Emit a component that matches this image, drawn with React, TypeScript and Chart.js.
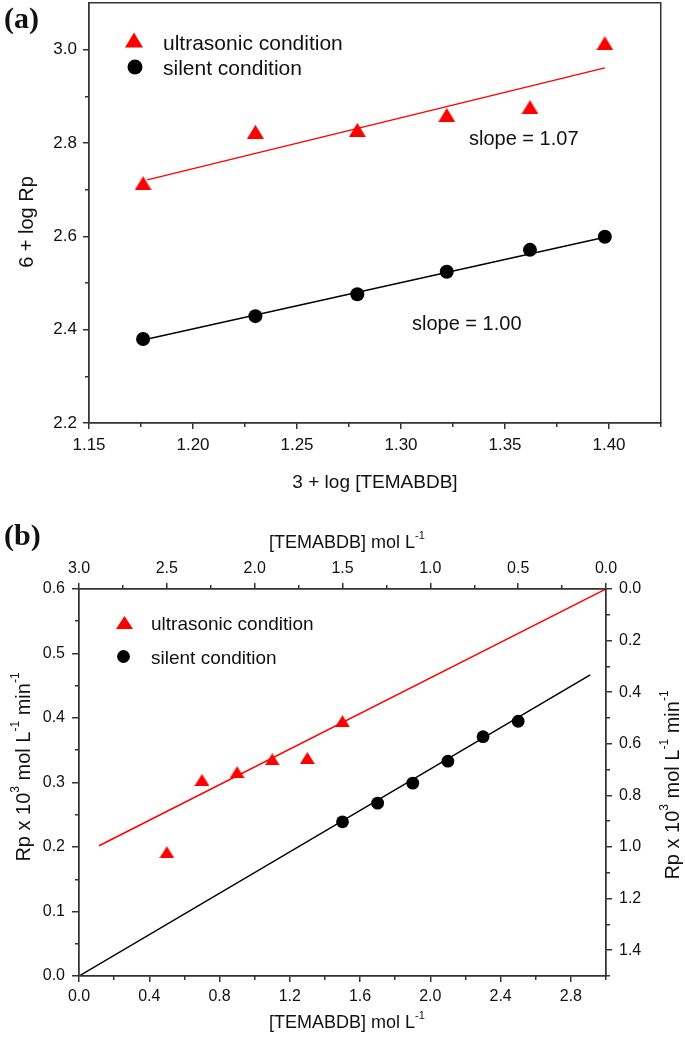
import React, { useEffect, useRef } from "react";
import { Chart, registerables } from "chart.js";

Chart.register(...registerables);

const FONT = "'Liberation Sans', Arial, Helvetica, sans-serif";
const SERIF = "'Liberation Serif', 'Times New Roman', serif";
const TEXT = "#111111";
const AXIS = "#333333";
const RED = "#ff0000";
const BLACK = "#000000";

// ---------- Panel (a) ----------
const logConcA = [1.176, 1.230, 1.279, 1.322, 1.362, 1.398];
const logRpUltrasonicA = [2.714, 2.824, 2.828, 2.860, 2.877, 3.014];
const logRpSilentA = [2.380, 2.429, 2.476, 2.524, 2.571, 2.599];
const fitUltrasonicAX = [1.178, 1.398];
const fitUltrasonicAY = [2.721, 2.961];
const fitSilentAX = [1.176, 1.398];
const fitSilentAY = [2.378, 2.598];
const xTicksA = [1.15, 1.2, 1.25, 1.3, 1.35, 1.4];
const xMinorA = [1.175, 1.225, 1.275, 1.325, 1.375, 1.425];
const yTicksA = [2.2, 2.4, 2.6, 2.8, 3.0];
const yMinorA = [2.3, 2.5, 2.7, 2.9];

// ---------- Panel (b) ----------
const concUltrasonicB = [0.5, 0.7, 0.9, 1.1, 1.3, 1.5];
const rpUltrasonicB = [0.192, 0.304, 0.316, 0.336, 0.338, 0.395];
const concSilentB = [1.5, 1.7, 1.9, 2.1, 2.3, 2.5];
const rpSilentB = [0.239, 0.268, 0.299, 0.333, 0.371, 0.395];
const fitUltrasonicBX = [0.114, 3.0];
const fitUltrasonicBY = [0.202, 0.6];
const fitSilentBX = [0.0, 2.91];
const fitSilentBY = [0.0, 0.467];
const xTicksB = [0, 0.4, 0.8, 1.2, 1.6, 2.0, 2.4, 2.8];
const xMinorB = [0.2, 0.6, 1.0, 1.4, 1.8, 2.2, 2.6, 3.0];
const yTicksB = [0, 0.1, 0.2, 0.3, 0.4, 0.5, 0.6];
const yMinorB = [0.05, 0.15, 0.25, 0.35, 0.45, 0.55];
const topTicksB = [0, 0.5, 1.0, 1.5, 2.0, 2.5, 3.0];
const topMinorB = [0.25, 0.75, 1.25, 1.75, 2.25, 2.75];
const rightTicksB = [0, 0.2, 0.4, 0.6, 0.8, 1.0, 1.2, 1.4];
const rightMinorB = [0.1, 0.3, 0.5, 0.7, 0.9, 1.1, 1.3, 1.5];

const A_H = 505;
const B_TOP = 505;
const B_H = 1038 - B_TOP;

type Seg = { t: string; sup?: boolean };

function drawText(
  ctx: CanvasRenderingContext2D,
  segs: Seg[],
  x: number,
  y: number,
  size: number,
  o: { rot?: number; align?: "left" | "center"; family?: string; weight?: string; baseline?: boolean; color?: string } = {}
) {
  const family = o.family || FONT;
  const weight = o.weight || "normal";
  const supSize = Math.round(size * 0.62);
  const f = (sz: number) => `${weight} ${sz}px ${family}`;
  ctx.save();
  ctx.translate(x, y);
  if (o.rot) ctx.rotate(o.rot);
  ctx.fillStyle = o.color || TEXT;
  ctx.textAlign = "left";
  ctx.textBaseline = "alphabetic";
  const widths = segs.map((s) => {
    ctx.font = f(s.sup ? supSize : size);
    return ctx.measureText(s.t).width;
  });
  const total = widths.reduce((a, b) => a + b, 0);
  let cx = o.align === "left" ? 0 : -total / 2;
  const base = o.baseline ? 0 : size * 0.36;
  segs.forEach((s, i) => {
    ctx.font = f(s.sup ? supSize : size);
    ctx.fillText(s.t, cx, s.sup ? base - size * 0.55 : base);
    cx += widths[i];
  });
  ctx.restore();
}

function makeTriangle(w: number, h: number, color: string) {
  const c = document.createElement("canvas");
  c.width = w;
  c.height = h;
  const g = c.getContext("2d")!;
  g.fillStyle = color;
  g.beginPath();
  g.moveTo(w / 2, 0);
  g.lineTo(w, h);
  g.lineTo(0, h);
  g.closePath();
  g.fill();
  return c;
}

function align(p: number, w: number) {
  return Math.round(p - w / 2) + w / 2;
}

function axisCfg(
  position: "left" | "right" | "top" | "bottom",
  min: number,
  max: number,
  ticks: number[],
  dec: number,
  fontSize: number,
  size: number,
  tickLen: number,
  pad: number,
  reverse = false
) {
  const horizontal = position === "top" || position === "bottom";
  return {
    type: "linear",
    position,
    min,
    max,
    reverse,
    afterBuildTicks: (s: any) => {
      s.ticks = ticks.map((v) => ({ value: v }));
    },
    afterFit: (s: any) => {
      if (horizontal) s.height = size;
      else s.width = size;
      s.paddingTop = 0;
      s.paddingBottom = 0;
      s.paddingLeft = 0;
      s.paddingRight = 0;
    },
    ticks: {
      callback: (v: any) => Number(v).toFixed(dec),
      font: { size: fontSize, family: FONT },
      color: TEXT,
      padding: pad,
      autoSkip: false,
      maxRotation: 0,
      minRotation: 0,
    },
    grid: {
      display: true,
      drawOnChartArea: false,
      drawTicks: true,
      tickLength: tickLen,
      color: AXIS,
      lineWidth: 1.5,
    },
    border: { display: true, color: AXIS, width: 1.5 },
    title: { display: false },
  };
}

type Minor = { id: string; values: number[]; len: number };
type TextItem = { segs: Seg[]; x: number; y: number; size: number; rot?: number; align?: "left" | "center"; family?: string; weight?: string; baseline?: boolean };
type Sym = { kind: "tri" | "circle"; x: number; y: number; w?: number; h?: number; r?: number; color: string };

function overlayPlugin(minor: Minor[], texts: TextItem[], syms: Sym[]) {
  return {
    id: "overlay",
    afterDraw(chart: any) {
      const ctx: CanvasRenderingContext2D = chart.ctx;
      const ca = chart.chartArea;
      ctx.save();
      ctx.strokeStyle = AXIS;
      ctx.lineWidth = 1.5;
      const l = align(ca.left, 1.5), r = align(ca.right, 1.5), t = align(ca.top, 1.5), b = align(ca.bottom, 1.5);
      ctx.strokeRect(l, t, r - l, b - t);
      for (const m of minor) {
        const s = chart.scales[m.id];
        ctx.beginPath();
        for (const v of m.values) {
          const p = align(s.getPixelForValue(v), 1.5);
          if (s.position === "bottom") {
            ctx.moveTo(p, s.top);
            ctx.lineTo(p, s.top + m.len);
          } else if (s.position === "top") {
            ctx.moveTo(p, s.bottom);
            ctx.lineTo(p, s.bottom - m.len);
          } else if (s.position === "left") {
            ctx.moveTo(s.right, p);
            ctx.lineTo(s.right - m.len, p);
          } else {
            ctx.moveTo(s.left, p);
            ctx.lineTo(s.left + m.len, p);
          }
        }
        ctx.stroke();
      }
      for (const sy of syms) {
        ctx.fillStyle = sy.color;
        ctx.beginPath();
        if (sy.kind === "tri") {
          const w = sy.w!, h = sy.h!;
          ctx.moveTo(sy.x, sy.y - h / 2);
          ctx.lineTo(sy.x + w / 2, sy.y + h / 2);
          ctx.lineTo(sy.x - w / 2, sy.y + h / 2);
          ctx.closePath();
        } else {
          ctx.arc(sy.x, sy.y, sy.r!, 0, Math.PI * 2);
        }
        ctx.fill();
      }
      for (const tx of texts) {
        drawText(ctx, tx.segs, tx.x, tx.y, tx.size, tx);
      }
      ctx.restore();
    },
  };
}

function pts(xs: number[], ys: number[]) {
  return xs.map((x, i) => ({ x, y: ys[i] }));
}

function configA(): any {
  const tri = makeTriangle(17, 14, RED);
  const up = -Math.PI / 2;
  return {
    type: "scatter",
    data: {
      datasets: [
        { label: "ultrasonic condition", data: pts(logConcA, logRpUltrasonicA), pointStyle: tri, pointRadius: 8, backgroundColor: RED, borderColor: RED },
        { label: "silent condition", data: pts(logConcA, logRpSilentA), pointStyle: "circle", pointRadius: 7, backgroundColor: BLACK, borderColor: BLACK, borderWidth: 0 },
        { label: "fit ultrasonic", data: pts(fitUltrasonicAX, fitUltrasonicAY), showLine: true, pointRadius: 0, borderColor: RED, borderWidth: 1.5, fill: false },
        { label: "fit silent", data: pts(fitSilentAX, fitSilentAY), showLine: true, pointRadius: 0, borderColor: BLACK, borderWidth: 1.5, fill: false },
      ],
    },
    options: {
      responsive: false,
      animation: false,
      devicePixelRatio: 1,
      events: [],
      layout: { autoPadding: false, padding: { top: 3, right: 24, left: 0, bottom: 0 } },
      plugins: { legend: { display: false }, tooltip: { enabled: false }, title: { display: false } },
      scales: {
        x: axisCfg("bottom", 1.15, 1.425, xTicksA, 2, 17, A_H - 423, 6, 6),
        y: axisCfg("left", 2.2, 3.1, yTicksA, 1, 17, 89, 6, 6),
      },
    },
    plugins: [
      overlayPlugin(
        [
          { id: "x", values: xMinorA, len: 4 },
          { id: "y", values: yMinorA, len: 4 },
        ],
        [
          { segs: [{ t: "(a)" }], x: 4, y: 28, size: 30, align: "left", family: SERIF, weight: "bold", baseline: true },
          { segs: [{ t: "ultrasonic condition" }], x: 163, y: 42, size: 21, align: "left" },
          { segs: [{ t: "silent condition" }], x: 163, y: 67, size: 21, align: "left" },
          { segs: [{ t: "slope = 1.07" }], x: 469, y: 138, size: 20, align: "left" },
          { segs: [{ t: "slope = 1.00" }], x: 412, y: 323, size: 20, align: "left" },
          { segs: [{ t: "3 + log [TEMABDB]" }], x: 375, y: 481, size: 19 },
          { segs: [{ t: "6 + log Rp" }], x: 25.5, y: 222, size: 20, rot: up },
        ],
        [
          { kind: "tri", x: 134, y: 40, w: 18, h: 15, color: RED },
          { kind: "circle", x: 135, y: 67, r: 7.5, color: BLACK },
        ]
      ),
    ],
  };
}

function configB(): any {
  const tri = makeTriangle(15, 12, RED);
  const up = -Math.PI / 2;
  const o = B_TOP;
  const rpTitle: Seg[] = [
    { t: "Rp x 10" },
    { t: "3", sup: true },
    { t: " mol L" },
    { t: "-1", sup: true },
    { t: " min" },
    { t: "-1", sup: true },
  ];
  const concTitle: Seg[] = [{ t: "[TEMABDB] mol L" }, { t: "-1", sup: true }];
  return {
    type: "scatter",
    data: {
      datasets: [
        { label: "ultrasonic condition", data: pts(concUltrasonicB, rpUltrasonicB), xAxisID: "x", yAxisID: "y", pointStyle: tri, pointRadius: 8, backgroundColor: RED, borderColor: RED },
        { label: "silent condition", data: pts(concSilentB, rpSilentB), xAxisID: "x", yAxisID: "y", pointStyle: "circle", pointRadius: 6.4, backgroundColor: BLACK, borderColor: BLACK, borderWidth: 0 },
        { label: "fit ultrasonic", data: pts(fitUltrasonicBX, fitUltrasonicBY), xAxisID: "x", yAxisID: "y", showLine: true, pointRadius: 0, borderColor: RED, borderWidth: 1.5, fill: false },
        { label: "fit silent", data: pts(fitSilentBX, fitSilentBY), xAxisID: "x", yAxisID: "y", showLine: true, pointRadius: 0, borderColor: BLACK, borderWidth: 1.5, fill: false },
      ],
    },
    options: {
      responsive: false,
      animation: false,
      devicePixelRatio: 1,
      events: [],
      layout: { autoPadding: false, padding: 0 },
      plugins: { legend: { display: false }, tooltip: { enabled: false }, title: { display: false } },
      scales: {
        x: axisCfg("bottom", 0, 3.0, xTicksB, 1, 16, B_H - (976 - o), 6, 5),
        y: axisCfg("left", 0, 0.6, yTicksB, 1, 16, 79, 7, 7),
        x2: axisCfg("top", 0, 3.0, topTicksB, 1, 16, 589 - o, 6, 5, true),
        y2: axisCfg("right", 0, 1.5, rightTicksB, 1, 16, 685 - 606, 6, 7, true),
      },
    },
    plugins: [
      overlayPlugin(
        [
          { id: "x", values: xMinorB, len: 4 },
          { id: "y", values: yMinorB, len: 4 },
          { id: "x2", values: topMinorB, len: 4 },
          { id: "y2", values: rightMinorB, len: 4 },
        ],
        [
          { segs: [{ t: "(b)" }], x: 4, y: 545 - o, size: 30, align: "left", family: SERIF, weight: "bold", baseline: true },
          { segs: [{ t: "ultrasonic condition" }], x: 151, y: 623 - o, size: 19, align: "left" },
          { segs: [{ t: "silent condition" }], x: 151, y: 657 - o, size: 19, align: "left" },
          { segs: concTitle, x: 347, y: 542 - o, size: 18 },
          { segs: concTitle, x: 347, y: 1022 - o, size: 18 },
          { segs: rpTitle, x: 22.5, y: 767 - o, size: 20, rot: up },
          { segs: rpTitle, x: 671.5, y: 785 - o, size: 20, rot: up },
        ],
        [
          { kind: "tri", x: 124.5, y: 622.5 - o, w: 17, h: 13, color: RED },
          { kind: "circle", x: 123.5, y: 656.5 - o, r: 6.4, color: BLACK },
        ]
      ),
    ],
  };
}

export default function App() {
  const refA = useRef<HTMLCanvasElement>(null);
  const refB = useRef<HTMLCanvasElement>(null);
  useEffect(() => {
    const a = new Chart(refA.current!, configA());
    const b = new Chart(refB.current!, configB());
    return () => {
      a.destroy();
      b.destroy();
    };
  }, []);
  return (
    <div style={{ position: "absolute", left: 0, top: 0, width: 685, height: 1038, background: "#ffffff" }}>
      <canvas ref={refA} width={685} height={A_H} style={{ position: "absolute", left: 0, top: 0, width: 685, height: A_H }} />
      <canvas ref={refB} width={685} height={B_H} style={{ position: "absolute", left: 0, top: B_TOP, width: 685, height: B_H }} />
    </div>
  );
}
